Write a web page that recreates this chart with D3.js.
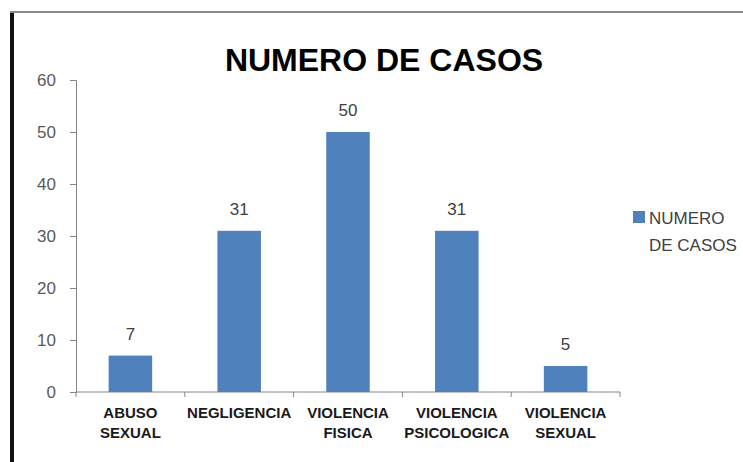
<!DOCTYPE html>
<html><head><meta charset="utf-8">
<script src="https://cdn.jsdelivr.net/npm/d3@7"></script>
<style>body{margin:0;background:#fff}svg{display:block}</style>
</head><body>
<script>
const categories = [["ABUSO","SEXUAL"],["NEGLIGENCIA"],["VIOLENCIA","FISICA"],["VIOLENCIA","PSICOLOGICA"],["VIOLENCIA","SEXUAL"]];
const values = [7, 31, 50, 31, 5];
const yTicks = [0, 10, 20, 30, 40, 50, 60];
const title = "NUMERO DE CASOS";
const legendLabel = ["NUMERO", "DE CASOS"];

const W = 743, H = 462;
const svg = d3.select("body").append("svg").attr("width", W).attr("height", H);

// frame borders
svg.append("rect").attr("x", 10).attr("y", 11).attr("width", 4).attr("height", H - 11).attr("fill", "#111");
svg.append("rect").attr("x", 10).attr("y", 11).attr("width", W - 10).attr("height", 2).attr("fill", "#8a8a8a");

const x = d3.scaleBand().domain(d3.range(categories.length)).range([76, 620]).paddingInner(0.6).paddingOuter(0.3);
const xOuter = d3.scaleBand().domain(d3.range(categories.length)).range([76, 620]);
const y = d3.scaleLinear().domain([0, 60]).range([392, 80]);

// y axis
const gy = svg.append("g").attr("transform", "translate(76,0)")
  .call(d3.axisLeft(y).tickValues(yTicks).tickSize(6).tickPadding(14));
gy.selectAll("path,line").attr("stroke", "#868686");
gy.selectAll("text").attr("fill", "#595959").attr("font-family", "Liberation Sans, Arial, sans-serif").attr("font-size", 17);

// x axis
svg.append("line").attr("x1", 76).attr("x2", 620).attr("y1", y(0)).attr("y2", y(0)).attr("stroke", "#868686");
svg.selectAll(".xt").data(d3.range(categories.length + 1)).join("line")
  .attr("x1", i => i < categories.length ? xOuter(i) : 620)
  .attr("x2", i => i < categories.length ? xOuter(i) : 620)
  .attr("y1", y(0)).attr("y2", y(0) + 5).attr("stroke", "#868686");

// bars
svg.selectAll(".bar").data(values).join("rect")
  .attr("x", (d, i) => x(i)).attr("width", x.bandwidth())
  .attr("y", d => y(d)).attr("height", d => y(0) - y(d))
  .attr("fill", "#4F81BD");

// value labels
svg.selectAll(".val").data(values).join("text")
  .attr("x", (d, i) => x(i) + x.bandwidth() / 2).attr("y", d => y(d) - 16)
  .attr("text-anchor", "middle").attr("fill", "#404040")
  .attr("font-family", "Liberation Sans, Arial, sans-serif").attr("font-size", 17)
  .text(d => d);

// category labels
const cl = svg.selectAll(".cat").data(categories).join("text")
  .attr("text-anchor", "middle").attr("fill", "#1a1a1a")
  .attr("font-family", "Liberation Sans, Arial, sans-serif").attr("font-weight", "bold").attr("font-size", 15);
cl.each(function(lines, i) {
  const t = d3.select(this);
  lines.forEach((ln, j) => t.append("tspan").attr("x", xOuter(i) + xOuter.bandwidth() / 2).attr("y", 418 + j * 20).text(ln));
});

// title
svg.append("text").attr("x", 384).attr("y", 71).attr("text-anchor", "middle")
  .attr("font-family", "Liberation Sans, Arial, sans-serif").attr("font-weight", "bold").attr("font-size", 32)
  .attr("fill", "#000").text(title);

// legend
svg.append("rect").attr("x", 633).attr("y", 211).attr("width", 12).attr("height", 12).attr("fill", "#4F81BD");
svg.append("text").attr("fill", "#404040").attr("font-family", "Liberation Sans, Arial, sans-serif").attr("font-size", 17)
  .selectAll("tspan").data(legendLabel).join("tspan")
  .attr("x", 649).attr("y", (d, i) => 224 + i * 27).text(d => d);
</script>
</body></html>
